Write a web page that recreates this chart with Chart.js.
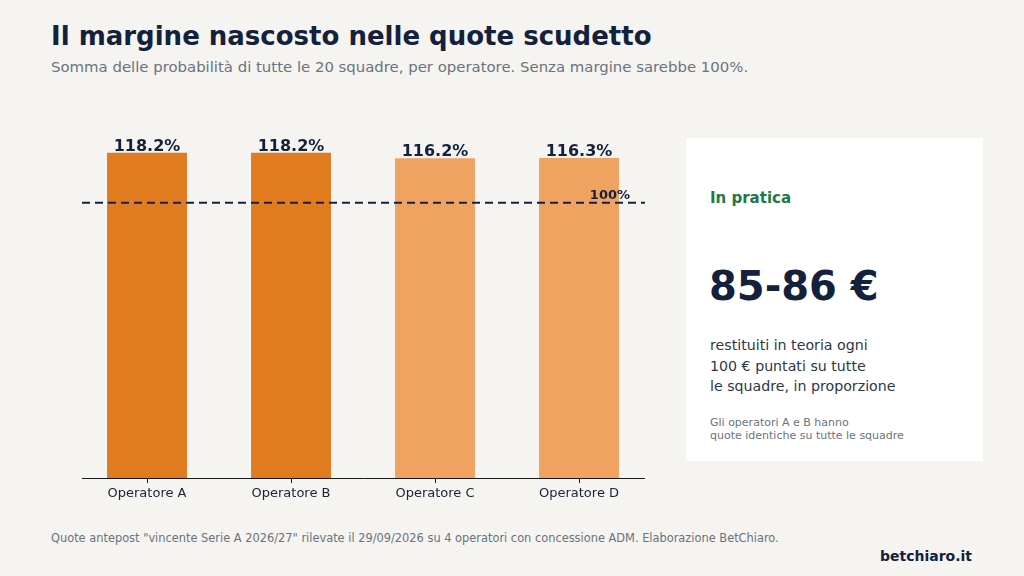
<!DOCTYPE html>
<html lang="it">
<head>
<meta charset="utf-8">
<script src="https://cdn.jsdelivr.net/npm/chart.js@4"></script>
<style>
  html, body { margin: 0; padding: 0; }
  body {
    width: 1024px; height: 576px; overflow: hidden; position: relative;
    background: #f5f4f0; font-family: "DejaVu Sans", sans-serif;
  }
  .title { position: absolute; left: 51px; top: 21px; font-size: 26px; font-weight: bold; color: #14213d; }
  .subtitle { position: absolute; left: 51px; top: 58px; font-size: 14.9px; color: #6b7280; }
  .chartbox { position: absolute; left: 0; top: 100px; width: 680px; height: 410px; }
  .panel { position: absolute; left: 686px; top: 138px; width: 297px; height: 323px; background: #ffffff; }
  .panel .kicker { position: absolute; left: 24px; top: 51px; font-size: 15px; font-weight: bold; color: #1a7a45; }
  .panel .big { position: absolute; left: 23px; top: 125px; font-size: 40px; font-weight: bold; color: #14213d; }
  .panel .body { position: absolute; left: 24px; top: 197px; font-size: 14.2px; line-height: 20.5px; color: #2d3748; }
  .panel .note { position: absolute; left: 24px; top: 278px; font-size: 11px; line-height: 13px; color: #6b7280; }
  .footer { position: absolute; left: 51px; top: 531px; font-size: 11.4px; color: #6b7280; }
  .brand { position: absolute; right: 52px; top: 548px; font-size: 14px; font-weight: bold; color: #14213d; }
</style>
</head>
<body>
<div class="title">Il margine nascosto nelle quote scudetto</div>
<div class="subtitle">Somma delle probabilità di tutte le 20 squadre, per operatore. Senza margine sarebbe 100%.</div>
<div class="chartbox"><canvas id="marginChart"></canvas></div>
<div class="panel">
  <div class="kicker">In pratica</div>
  <div class="big">85-86 €</div>
  <div class="body">restituiti in teoria ogni<br>100 € puntati su tutte<br>le squadre, in proporzione</div>
  <div class="note">Gli operatori A e B hanno<br>quote identiche su tutte le squadre</div>
</div>
<div class="footer">Quote antepost "vincente Serie A 2026/27" rilevate il 29/09/2026 su 4 operatori con concessione ADM. Elaborazione BetChiaro.</div>
<div class="brand">betchiaro.it</div>

<script>
const operatori = ['Operatore A', 'Operatore B', 'Operatore C', 'Operatore D'];
const sommaProbabilita = [118.2, 118.2, 116.2, 116.3];
const coloriBarre = ['#e07b1f', '#e07b1f', '#f0a360', '#f0a360'];
const soglia = 100;

const INK = '#14213d';

// etichette sopra le barre, linea del 100% e asse di base
const decorazioni = {
    id: 'decorazioni',
    afterDatasetsDraw(chart) {
        const { ctx, chartArea, scales } = chart;
        const x0 = chartArea.left + 7;
        const x1 = chartArea.right - 6;

        ctx.save();
        // asse di base
        ctx.strokeStyle = '#1a1a1a';
        ctx.lineWidth = 1;
        ctx.beginPath();
        ctx.moveTo(x0, chartArea.bottom + 0.5);
        ctx.lineTo(x1, chartArea.bottom + 0.5);
        ctx.stroke();

        // linea del 100%
        const y100 = scales.y.getPixelForValue(soglia);
        ctx.strokeStyle = INK;
        ctx.lineWidth = 2;
        ctx.setLineDash([8, 5]);
        ctx.beginPath();
        ctx.moveTo(x0, y100);
        ctx.lineTo(x1, y100);
        ctx.stroke();
        ctx.setLineDash([]);

        ctx.fillStyle = INK;
        ctx.font = 'bold 13px "DejaVu Sans"';
        ctx.textAlign = 'right';
        ctx.textBaseline = 'bottom';
        ctx.fillText(soglia + '%', x1 - 15, y100 - 1);

        // valori
        ctx.font = 'bold 16px "DejaVu Sans"';
        ctx.textAlign = 'center';
        chart.getDatasetMeta(0).data.forEach((bar, i) => {
            ctx.fillText(sommaProbabilita[i].toFixed(1) + '%', bar.x, bar.y + 2);
        });
        ctx.restore();
    }
};

const ctx1 = document.getElementById('marginChart').getContext('2d');
new Chart(ctx1, {
    type: 'bar',
    data: {
        labels: operatori,
        datasets: [{
            label: 'Somma probabilità',
            data: sommaProbabilita,
            backgroundColor: coloriBarre,
            categoryPercentage: 1,
            barPercentage: 0.555,
        }]
    },
    options: {
        responsive: true,
        maintainAspectRatio: false,
        animation: false,
        layout: { padding: { left: 75, right: 29, top: 34, bottom: 2 } },
        plugins: {
            legend: { display: false },
            tooltip: { enabled: false }
        },
        scales: {
            x: {
                grid: { display: true, drawOnChartArea: false, offset: false, tickLength: 5, color: '#1a1a1a' },
                border: { display: false },
                ticks: { color: '#1a2238', padding: 3, font: { family: '"DejaVu Sans"', size: 13 } },
                afterFit(scale) { scale.height = 30; }
            },
            y: {
                display: false,
                min: 0,
                max: 125
            }
        }
    },
    plugins: [decorazioni]
});
</script>
</body>
</html>
